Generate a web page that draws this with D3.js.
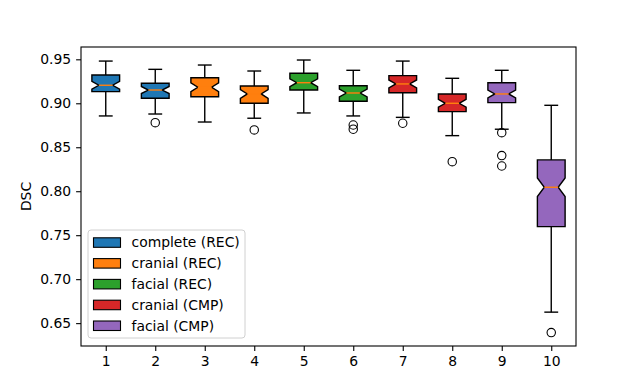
<!DOCTYPE html>
<html>
<head>
<meta charset="utf-8">
<script src="https://cdn.jsdelivr.net/npm/d3@7"></script>
<style>
  body { margin: 0; background: #fff; }
  svg { display: block; font-family: "DejaVu Sans", sans-serif; }
</style>
</head>
<body>
<div id="visualization"></div>
<script>
// box stats, one entry per box (positions 1..10)
var positions = [1, 2, 3, 4, 5, 6, 7, 8, 9, 10];
var whiskerHi = [0.948, 0.9386, 0.9435, 0.9367, 0.9492, 0.9375, 0.948, 0.9284, 0.9375, 0.8977];
var q3 = [0.9321, 0.9227, 0.9291, 0.9197, 0.9341, 0.9200, 0.9314, 0.9106, 0.9234, 0.8356];
var medians = [0.9205, 0.9151, 0.9182, 0.9106, 0.9234, 0.9117, 0.9220, 0.9000, 0.9106, 0.8045];
var q1 = [0.9132, 0.9057, 0.9075, 0.9000, 0.9151, 0.9023, 0.9120, 0.8905, 0.9007, 0.7598];
var whiskerLo = [0.8856, 0.8878, 0.8787, 0.8830, 0.8890, 0.8856, 0.8840, 0.8632, 0.8705, 0.6625];
var notchHalf = [0.0045, 0.0040, 0.0050, 0.0050, 0.0045, 0.0045, 0.0045, 0.0045, 0.0045, 0.0105];
var outliers = [[], [0.878], [], [0.8697], [], [0.8753, 0.8705], [0.8773], [0.8336], [0.8666, 0.8405, 0.8287], [0.6393]];
var groupOf = [0, 0, 1, 1, 2, 2, 3, 3, 4, 4];

var legendLabels = ["complete (REC)", "cranial (REC)", "facial (REC)", "cranial (CMP)", "facial (CMP)"];
var colors = ["#1f77b4", "#ff7f0e", "#2ca02c", "#d62728", "#9467bd"];
var yTicks = [0.65, 0.70, 0.75, 0.80, 0.85, 0.90, 0.95];

const width = 640;
const height = 389;
const margin = {left: 81, right: 64, top: 47, bottom: 43};

const svg = d3.select("#visualization").append("svg")
    .attr("width", width)
    .attr("height", height);

const x = d3.scaleLinear()
    .domain([0.5, 10.5])
    .range([margin.left, width - margin.right]);

const y = d3.scaleLinear()
    .domain([0.624, 0.964])
    .range([height - margin.bottom, margin.top]);

const boxW = 0.56;   // in data units
const fs = 13.9;

var boxes = positions.map((p, i) => ({
    pos: p, hi: whiskerHi[i], q3: q3[i], med: medians[i], q1: q1[i], lo: whiskerLo[i],
    nh: notchHalf[i], out: outliers[i], color: colors[groupOf[i]]
}));

const g = svg.append("g");

// whiskers + caps
boxes.forEach(function(b) {
    var cx = x(b.pos);
    var capHalf = (x(boxW / 4) - x(0));
    g.append("line").attr("x1", cx).attr("x2", cx).attr("y1", y(b.q1)).attr("y2", y(b.lo))
        .attr("stroke", "#000").attr("stroke-width", 1.4);
    g.append("line").attr("x1", cx).attr("x2", cx).attr("y1", y(b.q3)).attr("y2", y(b.hi))
        .attr("stroke", "#000").attr("stroke-width", 1.4);
    [b.lo, b.hi].forEach(function(v) {
        g.append("line").attr("x1", cx - capHalf).attr("x2", cx + capHalf)
            .attr("y1", y(v)).attr("y2", y(v))
            .attr("stroke", "#000").attr("stroke-width", 1.4);
    });
});

// notched boxes
g.selectAll("path.box")
    .data(boxes)
    .join("path")
    .attr("class", "box")
    .attr("d", function(b) {
        var l = x(b.pos - boxW / 2), r = x(b.pos + boxW / 2);
        var il = x(b.pos - boxW / 4), ir = x(b.pos + boxW / 4);
        var p = d3.path();
        p.moveTo(l, y(b.q1));
        p.lineTo(r, y(b.q1));
        p.lineTo(r, y(b.med - b.nh));
        p.lineTo(ir, y(b.med));
        p.lineTo(r, y(b.med + b.nh));
        p.lineTo(r, y(b.q3));
        p.lineTo(l, y(b.q3));
        p.lineTo(l, y(b.med + b.nh));
        p.lineTo(il, y(b.med));
        p.lineTo(l, y(b.med - b.nh));
        p.closePath();
        return p.toString();
    })
    .attr("fill", b => b.color)
    .attr("stroke", "#000")
    .attr("stroke-width", 1.4)
    .attr("stroke-linejoin", "miter");

// medians
g.selectAll("line.med")
    .data(boxes)
    .join("line")
    .attr("class", "med")
    .attr("x1", b => x(b.pos - boxW / 4))
    .attr("x2", b => x(b.pos + boxW / 4))
    .attr("y1", b => y(b.med))
    .attr("y2", b => y(b.med))
    .attr("stroke", "#ff7f0e")
    .attr("stroke-width", 1.4);

// fliers
boxes.forEach(function(b) {
    b.out.forEach(function(v) {
        g.append("circle").attr("cx", x(b.pos)).attr("cy", y(v)).attr("r", 4.2)
            .attr("fill", "none").attr("stroke", "#000").attr("stroke-width", 1.1);
    });
});

// axes frame
svg.append("rect")
    .attr("x", margin.left).attr("y", margin.top)
    .attr("width", width - margin.left - margin.right)
    .attr("height", height - margin.top - margin.bottom)
    .attr("fill", "none").attr("stroke", "#000").attr("stroke-width", 1.1);

const yAxis = svg.append("g")
    .attr("transform", `translate(${margin.left},0)`)
    .call(d3.axisLeft(y).tickValues(yTicks).tickFormat(d3.format(".2f")).tickSizeOuter(0).tickSize(4.9).tickPadding(4.9));
const xAxis = svg.append("g")
    .attr("transform", `translate(0,${height - margin.bottom})`)
    .call(d3.axisBottom(x).tickValues(positions).tickSizeOuter(0).tickSize(4.9).tickPadding(4.9));

[xAxis, yAxis].forEach(function(a) {
    a.select(".domain").remove();
    a.selectAll("text").attr("font-size", fs).attr("font-family", "DejaVu Sans").attr("fill", "#000");
    a.selectAll("line").attr("stroke", "#000").attr("stroke-width", 1.1);
});

svg.append("text")
    .attr("transform", `translate(31,${(margin.top + height - margin.bottom) / 2}) rotate(-90)`)
    .attr("text-anchor", "middle")
    .attr("font-size", fs)
    .text("DSC");

// legend
const lx = 88, ly = 230, lw = 157, lh = 108;
svg.append("rect")
    .attr("x", lx).attr("y", ly).attr("width", lw).attr("height", lh)
    .attr("rx", 3)
    .attr("fill", "#fff").attr("fill-opacity", 0.8)
    .attr("stroke", "#d0d0d0").attr("stroke-width", 1);

const item = svg.append("g")
    .selectAll("g")
    .data(legendLabels)
    .join("g")
    .attr("transform", (d, i) => `translate(${lx + 5.5},${ly + 12.3 + i * 20.8})`);

item.append("rect")
    .attr("x", 0).attr("y", -4.5).attr("width", 27).attr("height", 9.5)
    .attr("fill", (d, i) => colors[i])
    .attr("stroke", "#000").attr("stroke-width", 1.1);

item.append("text")
    .attr("x", 38)
    .attr("y", 0)
    .attr("dy", "0.36em")
    .attr("font-size", fs)
    .text(d => d);
</script>
</body>
</html>
